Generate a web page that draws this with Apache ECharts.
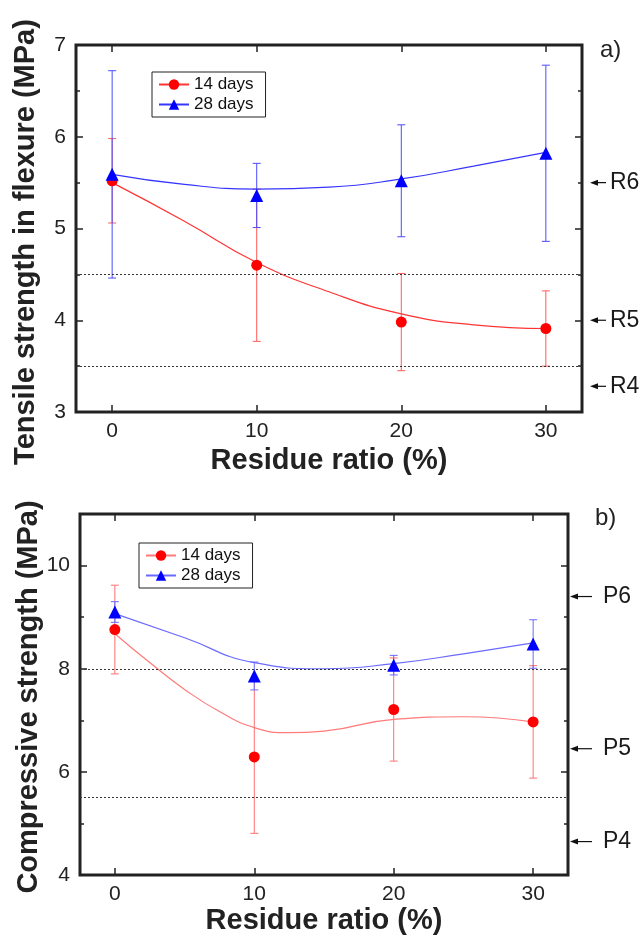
<!DOCTYPE html>
<html>
<head>
<meta charset="utf-8">
<script src="https://cdn.jsdelivr.net/npm/echarts@6/dist/echarts.min.js"></script>
<style>html,body{margin:0;padding:0;background:#fff}#c{width:642px;height:936px}</style>
</head>
<body>
<div id="c"></div>
<script>
// ---- data ----
const ratio = [0, 10, 20, 30];
const xTicks = [0, 10, 20, 30];
// a) tensile strength in flexure
const flex14 = [5.52, 4.60, 3.98, 3.91];
const flex14Err = [0.46, 0.83, 0.53, 0.41];
const flex28 = [5.59, 5.36, 5.52, 5.82];
const flex28Err = [1.13, 0.35, 0.61, 0.96];
const flexFitX = [0, 5, 10, 15, 20, 25, 30];
const flex14Fit = [5.50, 5.08, 4.63, 4.31, 4.07, 3.95, 3.91];
const flex28Fit = [5.59, 5.48, 5.43, 5.45, 5.54, 5.68, 5.83];
const flexRef = [4.5, 3.5];
const flexClassNames = ['R6', 'R5', 'R4'];
const flexClassVals = [5.5, 4.0, 3.28];
const flexYTicks = [3, 4, 5, 6, 7];
const flexYMinor = [3.5, 4.5, 5.5, 6.5];
// b) compressive strength
const comp14 = [8.76, 6.29, 7.21, 6.97];
const comp14Err = [0.86, 1.48, 1.00, 1.09];
const comp28 = [9.10, 7.86, 8.07, 8.48];
const comp28Err = [0.20, 0.27, 0.19, 0.47];
const comp14FitX = [0, 2.5, 5, 7.5, 10, 12.5, 15, 20, 25, 30];
const comp14Fit = [8.68, 8.12, 7.60, 7.17, 6.86, 6.76, 6.79, 7.02, 7.07, 6.97];
const comp28FitX = [0, 5, 10, 15, 20, 25, 30];
const comp28Fit = [9.07, 8.60, 8.12, 8.00, 8.10, 8.29, 8.50];
const compRef = [8.0, 5.5];
const compClassNames = ['P6', 'P5', 'P4'];
const compClassVals = [9.4, 6.45, 4.65];
const compYTicks = [4, 6, 8, 10];
const compYMinor = [5, 7, 9, 11];

const legendNames = { f14: '14 days', f28: '28 days', c14: '14 days', c28: '28 days' };

// ---- helpers ----
const FONT = 'Liberation Sans, Arial, sans-serif';
const X_MIN = -2.5, X_MAX = 32.5;

function pairs(xs, ys) { return xs.map((x, i) => [x, ys[i]]); }
function errData(xs, ys, es) { return xs.map((x, i) => [x, ys[i] - es[i], ys[i] + es[i]]); }

function errRender(color) {
  return function (params, api) {
    const x = api.value(0);
    const pl = api.coord([x, api.value(1)]);
    const ph = api.coord([x, api.value(2)]);
    const w = 4;
    const st = { stroke: color, lineWidth: 1 };
    return {
      type: 'group', children: [
        { type: 'line', shape: { x1: pl[0], y1: pl[1], x2: ph[0], y2: ph[1] }, style: st },
        { type: 'line', shape: { x1: pl[0] - w, y1: pl[1], x2: pl[0] + w, y2: pl[1] }, style: st },
        { type: 'line', shape: { x1: ph[0] - w, y1: ph[1], x2: ph[0] + w, y2: ph[1] }, style: st }
      ]
    };
  };
}

function arrowRender(names, head, tail, textX) {
  return function (params, api) {
    const p = api.coord([api.value(0), api.value(1)]);
    const y = p[1];
    return {
      type: 'group', children: [
        { type: 'line', shape: { x1: p[0] + head + 4, y1: y, x2: p[0] + tail, y2: y }, style: { stroke: '#111', lineWidth: 1.2 } },
        { type: 'polygon', shape: { points: [[p[0] + head, y], [p[0] + head + 8, y - 3], [p[0] + head + 8, y + 3]] }, style: { fill: '#111' } },
        { type: 'text', x: p[0] + textX, y: y, style: { text: names[params.dataIndex], fill: '#1a1a1a', font: '23px ' + FONT, verticalAlign: 'middle', align: 'left' } }
      ]
    };
  };
}

const tickStyle = { color: '#222', width: 1.5 };

function xAxes(gridIndex, nameGap) {
  const base = {
    gridIndex, type: 'value', min: X_MIN, max: X_MAX,
    axisLine: { show: false, onZero: false },
    splitLine: { show: false },
    axisTick: { show: true, inside: true, length: 7, customValues: xTicks, lineStyle: tickStyle }
  };
  return [
    Object.assign({}, base, {
      position: 'bottom',
      axisLabel: { customValues: xTicks, fontSize: 21, color: '#222', fontFamily: FONT, margin: 9 },
      name: 'Residue ratio (%)', nameLocation: 'middle', nameGap,
      nameTextStyle: { fontSize: 29, fontWeight: 'bold', color: '#222', fontFamily: FONT }
    }),
    Object.assign({}, base, { position: 'top', axisLabel: { show: false } })
  ];
}

function yAxes(gridIndex, min, max, labels, minor) {
  function ax(position, ticks, len, showLabel) {
    return {
      gridIndex, type: 'value', min, max, position,
      axisLine: { show: false, onZero: false },
      splitLine: { show: false },
      axisTick: { show: true, inside: true, length: len, customValues: ticks, lineStyle: tickStyle },
      axisLabel: showLabel
        ? { customValues: labels, fontSize: 21, color: '#222', fontFamily: FONT, margin: 10 }
        : { show: false }
    };
  }
  return [
    ax('left', labels, 7, true),
    ax('right', labels, 7, false),
    ax('left', minor, 4, false),
    ax('right', minor, 4, false)
  ];
}

function panelSeries(g, key14, key28, d14, e14, d28, e28, fx14, f14, fx28, f28, refs, cls, clsNames, col, arrow) {
  const xi = g * 2, yi = g * 4;
  return [
    { type: 'custom', xAxisIndex: xi, yAxisIndex: yi, renderItem: errRender(col.err14), data: errData(ratio, d14, e14), encode: { x: 0, y: [1, 2] }, z: 2, silent: true },
    { type: 'custom', xAxisIndex: xi, yAxisIndex: yi, renderItem: errRender(col.err28), data: errData(ratio, d28, e28), encode: { x: 0, y: [1, 2] }, z: 2, silent: true },
    {
      name: key14, type: 'line', xAxisIndex: xi, yAxisIndex: yi, smooth: 0.5, showSymbol: false, symbol: 'circle',
      data: pairs(fx14, f14), lineStyle: { color: col.line14, width: 1.2 }, itemStyle: { color: '#ff0000' }, z: 3, silent: true
    },
    {
      name: key28, type: 'line', xAxisIndex: xi, yAxisIndex: yi, smooth: 0.5, showSymbol: false, symbol: 'triangle',
      data: pairs(fx28, f28), lineStyle: { color: col.line28, width: 1.2 }, itemStyle: { color: '#0000ff' }, z: 3, silent: true,
      markLine: {
        silent: true, symbol: 'none', label: { show: false },
        lineStyle: { color: '#333', width: 1, type: [2, 2] },
        data: refs.map(v => ({ yAxis: v }))
      }
    },
    { type: 'scatter', xAxisIndex: xi, yAxisIndex: yi, symbol: 'circle', symbolSize: 11, data: pairs(ratio, d14), itemStyle: { color: '#ff0000', opacity: 1 }, z: 5, silent: true },
    { type: 'scatter', xAxisIndex: xi, yAxisIndex: yi, symbol: 'triangle', symbolSize: 13, data: pairs(ratio, d28), itemStyle: { color: '#0000ff', opacity: 1 }, z: 5, silent: true },
    {
      type: 'custom', xAxisIndex: xi, yAxisIndex: yi, clip: false, silent: true,
      renderItem: arrowRender(clsNames, arrow.head, arrow.tail, arrow.text),
      data: cls.map(v => [X_MAX, v]), encode: { x: 0, y: 1 }
    }
  ];
}

function legendOf(left, top, names) {
  return {
    left, top, orient: 'vertical', data: names, selectedMode: false,
    borderColor: '#222', borderWidth: 1, padding: [4, 12, 4, 6], itemGap: 3,
    itemWidth: 30, itemHeight: 13,
    textStyle: { fontSize: 17, color: '#111', fontFamily: FONT },
    formatter: n => legendNames[n]
  };
}

const chart = echarts.init(document.getElementById('c'), null, { renderer: 'canvas' });
chart.setOption({
  animation: false,
  backgroundColor: '#fff',
  grid: [
    { left: 76, top: 45, width: 506, height: 367, show: true, borderColor: '#222', borderWidth: 3, backgroundColor: 'transparent' },
    { left: 80, top: 514, width: 488, height: 362, show: true, borderColor: '#222', borderWidth: 3, backgroundColor: 'transparent' }
  ],
  xAxis: [].concat(xAxes(0, 34), xAxes(1, 30)),
  yAxis: [].concat(yAxes(0, 3, 7, flexYTicks, flexYMinor), yAxes(1, 4, 11, compYTicks, compYMinor)),
  legend: [legendOf(152, 72, ['f14', 'f28']), legendOf(139, 543, ['c14', 'c28'])],
  graphic: [
    { type: 'text', x: 26, y: 242, rotation: Math.PI / 2, style: { text: 'Tensile strength in flexure (MPa)', font: 'bold 29px ' + FONT, fill: '#222', align: 'center', verticalAlign: 'middle' } },
    { type: 'text', x: 29, y: 697, rotation: Math.PI / 2, style: { text: 'Compressive strength (MPa)', font: 'bold 29px ' + FONT, fill: '#222', align: 'center', verticalAlign: 'middle' } },
    { type: 'text', x: 600, y: 38, style: { text: 'a)', font: '24px ' + FONT, fill: '#222' } },
    { type: 'text', x: 595, y: 506, style: { text: 'b)', font: '24px ' + FONT, fill: '#222' } }
  ],
  series: [].concat(
    panelSeries(0, 'f14', 'f28', flex14, flex14Err, flex28, flex28Err, flexFitX, flex14Fit, flexFitX, flex28Fit, flexRef, flexClassVals, flexClassNames,
      { err14: '#ff5a5a', err28: '#4a4aff', line14: '#ff3535', line28: '#3535ff' }, { head: 8, tail: 24, text: 28 }),
    panelSeries(1, 'c14', 'c28', comp14, comp14Err, comp28, comp28Err, comp14FitX, comp14Fit, comp28FitX, comp28Fit, compRef, compClassVals, compClassNames,
      { err14: '#ff7070', err28: '#6a6aff', line14: '#ff7a7a', line28: '#6a6aff' }, { head: 2, tail: 24, text: 35 })
  )
});
</script>
</body>
</html>
